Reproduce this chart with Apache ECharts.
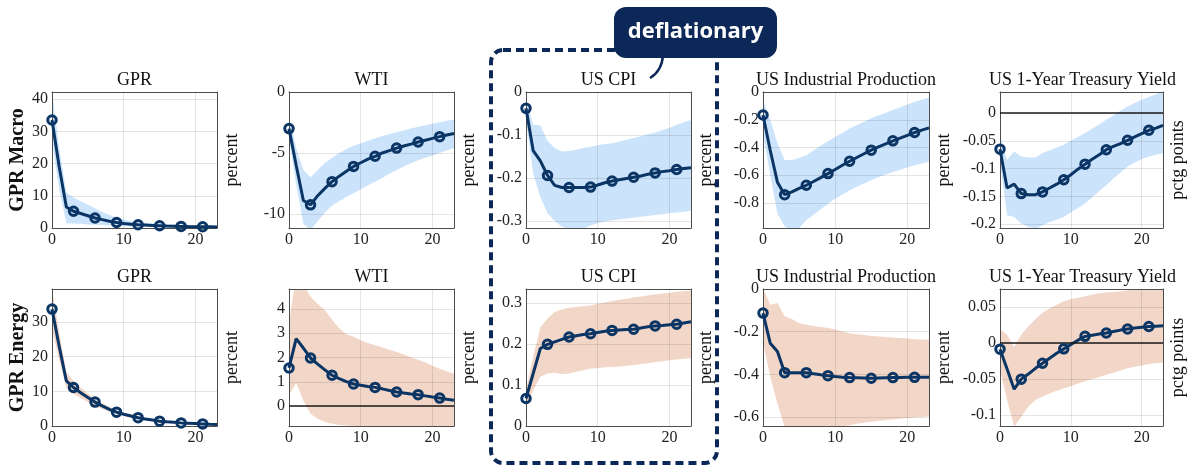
<!DOCTYPE html>
<html>
<head>
<meta charset="utf-8">
<script src="https://cdn.jsdelivr.net/npm/echarts@6/dist/echarts.min.js"></script>
<style>
  html, body { margin: 0; padding: 0; background: #ffffff; }
  #chart { width: 1188px; height: 466px; }
</style>
</head>
<body>
<div id="chart"></div>
<script>
// Impulse responses to a GPR shock (months after the shock), with confidence bands.
const horizon = [0, 1, 2, 3, 4, 5, 6, 7, 8, 9, 10, 11, 12, 13, 14, 15, 16, 17, 18, 19, 20, 21, 22, 23];
const markerSteps = [0, 3, 6, 9, 12, 15, 18, 21];
const xTicks = [0, 10, 20];

// ---- GPR Macro shock ----
const macroGprIrf = [33.5, 19.0, 6.5, 5.2, 4.5, 3.8, 3.1, 2.6, 2.1, 1.7, 1.4, 1.2, 1.0, 0.9, 0.8, 0.7, 0.6, 0.55, 0.5, 0.45, 0.42, 0.4, 0.35, 0.3];
const macroGprHi  = [42.5, 25, 11, 9.5, 8.3, 7.2, 6.1, 5.0, 4.0, 3.2, 2.6, 2.1, 1.8, 1.6, 1.4, 1.3, 1.2, 1.1, 1.0, 0.95, 0.9, 0.85, 0.8, 0.8];
const macroGprLo  = [27, 12, 1.5, 1.4, 1.3, 1.1, 1.0, 0.9, 0.8, 0.7, 0.55, 0.45, 0.35, 0.3, 0.25, 0.2, 0.15, 0.12, 0.1, 0.08, 0.05, 0.05, 0.03, 0.02];

const macroWtiIrf = [-3.0, -6.0, -8.9, -9.25, -8.5, -7.9, -7.35, -6.9, -6.5, -6.1, -5.8, -5.5, -5.27, -5.0, -4.8, -4.6, -4.43, -4.27, -4.1, -3.95, -3.8, -3.66, -3.52, -3.4];
const macroWtiHi  = [-1.9, -4.6, -6.4, -7.0, -6.4, -5.8, -5.4, -5.0, -4.7, -4.4, -4.2, -4.0, -3.8, -3.6, -3.45, -3.3, -3.15, -3.0, -2.85, -2.72, -2.6, -2.47, -2.35, -2.25];
const macroWtiLo  = [-3.8, -7.6, -10.8, -11.3, -10.6, -9.9, -9.3, -8.95, -8.6, -8.3, -8.0, -7.65, -7.35, -7.05, -6.7, -6.4, -6.1, -5.85, -5.6, -5.4, -5.2, -5.0, -4.8, -4.6];

const macroCpiIrf = [-0.038, -0.136, -0.16, -0.194, -0.217, -0.222, -0.222, -0.222, -0.222, -0.221, -0.216, -0.211, -0.207, -0.204, -0.201, -0.198, -0.195, -0.191, -0.188, -0.185, -0.183, -0.180, -0.178, -0.176];
const macroCpiHi  = [-0.015, -0.076, -0.077, -0.113, -0.13, -0.138, -0.137, -0.134, -0.13, -0.127, -0.124, -0.121, -0.119, -0.115, -0.111, -0.107, -0.103, -0.098, -0.094, -0.089, -0.083, -0.076, -0.07, -0.065];
const macroCpiLo  = [-0.065, -0.19, -0.244, -0.282, -0.30, -0.313, -0.318, -0.32, -0.318, -0.31, -0.305, -0.301, -0.298, -0.296, -0.294, -0.292, -0.29, -0.288, -0.286, -0.284, -0.282, -0.28, -0.278, -0.276];

const macroIpIrf = [-0.166, -0.42, -0.65, -0.74, -0.72, -0.695, -0.672, -0.645, -0.617, -0.588, -0.558, -0.528, -0.499, -0.472, -0.445, -0.419, -0.396, -0.374, -0.352, -0.332, -0.312, -0.292, -0.275, -0.258];
const macroIpHi  = [-0.06, -0.2, -0.37, -0.49, -0.49, -0.475, -0.455, -0.42, -0.387, -0.354, -0.324, -0.293, -0.263, -0.238, -0.214, -0.19, -0.17, -0.15, -0.13, -0.11, -0.09, -0.07, -0.055, -0.04];
const macroIpLo  = [-0.3, -0.6, -0.877, -0.97, -1.0, -0.98, -0.925, -0.885, -0.845, -0.805, -0.77, -0.738, -0.708, -0.683, -0.659, -0.636, -0.615, -0.595, -0.576, -0.56, -0.544, -0.528, -0.515, -0.503];

const macroTyIrf = [-0.065, -0.135, -0.128, -0.145, -0.147, -0.147, -0.142, -0.135, -0.128, -0.120, -0.111, -0.101, -0.092, -0.083, -0.075, -0.066, -0.060, -0.055, -0.049, -0.043, -0.037, -0.031, -0.027, -0.022];
const macroTyHi  = [-0.04, -0.084, -0.069, -0.078, -0.08, -0.08, -0.072, -0.067, -0.062, -0.057, -0.050, -0.043, -0.036, -0.028, -0.020, -0.012, -0.004, 0.004, 0.012, 0.018, 0.024, 0.029, 0.034, 0.038];
const macroTyLo  = [-0.09, -0.184, -0.187, -0.199, -0.205, -0.208, -0.202, -0.196, -0.192, -0.187, -0.179, -0.171, -0.163, -0.152, -0.141, -0.13, -0.118, -0.107, -0.096, -0.089, -0.083, -0.078, -0.075, -0.072];

// ---- GPR Energy shock ----
const energyGprIrf = [33.7, 23, 13, 11.1, 9.6, 8.2, 6.9, 5.8, 4.8, 4.0, 3.4, 2.9, 2.4, 2.0, 1.7, 1.4, 1.2, 1.05, 0.9, 0.8, 0.7, 0.6, 0.5, 0.45];
const energyGprHi  = [39.5, 27, 15.5, 13, 11, 9.4, 7.9, 6.6, 5.5, 4.6, 3.9, 3.3, 2.8, 2.4, 2.0, 1.7, 1.5, 1.3, 1.1, 1.0, 0.9, 0.8, 0.7, 0.6];
const energyGprLo  = [28, 19, 11, 9.3, 8.1, 6.9, 5.8, 4.9, 4.1, 3.4, 2.9, 2.4, 2.0, 1.7, 1.4, 1.1, 0.95, 0.8, 0.7, 0.6, 0.5, 0.4, 0.35, 0.3];

const energyWtiIrf = [1.57, 2.78, 2.39, 1.98, 1.73, 1.49, 1.27, 1.13, 1.01, 0.91, 0.86, 0.81, 0.77, 0.71, 0.64, 0.58, 0.54, 0.50, 0.47, 0.42, 0.37, 0.33, 0.28, 0.24];
const energyWtiHi  = [3.4, 5.4, 5.0, 4.5, 4.2, 3.95, 3.55, 3.2, 2.96, 2.85, 2.71, 2.6, 2.5, 2.41, 2.32, 2.23, 2.12, 2.01, 1.91, 1.79, 1.66, 1.54, 1.43, 1.33];
const energyWtiLo  = [0.45, 0.95, 0.23, -0.32, -0.52, -0.66, -0.73, -0.78, -0.8, -0.83, -0.86, -0.88, -0.9, -0.92, -0.93, -0.94, -0.95, -0.96, -0.97, -0.98, -0.98, -0.99, -0.99, -1.0];

const energyCpiIrf = [0.067, 0.128, 0.189, 0.199, 0.205, 0.211, 0.217, 0.220, 0.223, 0.225, 0.228, 0.231, 0.233, 0.234, 0.235, 0.236, 0.239, 0.242, 0.244, 0.245, 0.247, 0.248, 0.251, 0.254];
const energyCpiHi  = [0.087, 0.168, 0.241, 0.262, 0.278, 0.284, 0.288, 0.29, 0.292, 0.294, 0.298, 0.301, 0.305, 0.308, 0.31, 0.313, 0.316, 0.318, 0.321, 0.323, 0.325, 0.327, 0.329, 0.33];
const energyCpiLo  = [0.046, 0.087, 0.12, 0.128, 0.13, 0.126, 0.128, 0.132, 0.136, 0.14, 0.141, 0.143, 0.144, 0.145, 0.147, 0.148, 0.151, 0.153, 0.156, 0.158, 0.16, 0.162, 0.164, 0.165];

const energyIpIrf = [-0.113, -0.254, -0.293, -0.392, -0.392, -0.392, -0.392, -0.397, -0.402, -0.406, -0.41, -0.413, -0.415, -0.416, -0.417, -0.418, -0.417, -0.416, -0.415, -0.415, -0.414, -0.414, -0.414, -0.414];
const energyIpHi  = [0.005, -0.074, -0.066, -0.128, -0.141, -0.16, -0.168, -0.173, -0.178, -0.183, -0.19, -0.199, -0.207, -0.212, -0.216, -0.22, -0.223, -0.225, -0.227, -0.23, -0.232, -0.235, -0.237, -0.238];
const energyIpLo  = [-0.25, -0.41, -0.536, -0.646, -0.68, -0.68, -0.68, -0.68, -0.67, -0.66, -0.65, -0.644, -0.638, -0.632, -0.627, -0.622, -0.618, -0.614, -0.611, -0.608, -0.605, -0.602, -0.6, -0.598];

const energyTyIrf = [-0.0084, -0.036, -0.064, -0.050, -0.043, -0.035, -0.028, -0.021, -0.014, -0.008, -0.002, 0.004, 0.0093, 0.011, 0.0125, 0.014, 0.016, 0.018, 0.0195, 0.021, 0.022, 0.023, 0.0235, 0.024];
const energyTyHi  = [0.0195, 0.0116, -0.0056, 0.0116, 0.023, 0.033, 0.042, 0.048, 0.053, 0.058, 0.061, 0.063, 0.065, 0.067, 0.069, 0.07, 0.071, 0.072, 0.073, 0.074, 0.074, 0.0745, 0.075, 0.076];
const energyTyLo  = [-0.037, -0.079, -0.116, -0.102, -0.088, -0.079, -0.074, -0.070, -0.066, -0.063, -0.06, -0.056, -0.053, -0.05, -0.047, -0.044, -0.041, -0.038, -0.035, -0.033, -0.031, -0.029, -0.028, -0.027];

// Titles, units and y-axis ticks / limits
const variableTitles = ['GPR', 'WTI', 'US CPI', 'US Industrial Production', 'US 1-Year Treasury Yield'];
const unitLabels = ['percent', 'percent', 'percent', 'percent', 'pctg points'];
const rowLabels = ['GPR Macro', 'GPR Energy'];
const macroYTicks = [[0, 10, 20, 30, 40], [-10, -5, 0], [-0.3, -0.2, -0.1, 0], [-0.8, -0.6, -0.4, -0.2, 0], [-0.2, -0.15, -0.1, -0.05, 0]];
const macroYLimits = [[0, 42.2], [-11.15, 0], [-0.316, 0], [-0.98, 0], [-0.207, 0.038]];
const energyYTicks = [[0, 10, 20, 30], [0, 1, 2, 3, 4], [0, 0.1, 0.2, 0.3], [-0.6, -0.4, -0.2, 0], [-0.1, -0.05, 0, 0.05]];
const energyYLimits = [[0, 39.5], [-0.82, 4.82], [0, 0.334], [-0.642, 0], [-0.115, 0.075]];

const macroSets = [
  [macroGprIrf, macroGprLo, macroGprHi], [macroWtiIrf, macroWtiLo, macroWtiHi],
  [macroCpiIrf, macroCpiLo, macroCpiHi], [macroIpIrf, macroIpLo, macroIpHi],
  [macroTyIrf, macroTyLo, macroTyHi]
];
const energySets = [
  [energyGprIrf, energyGprLo, energyGprHi], [energyWtiIrf, energyWtiLo, energyWtiHi],
  [energyCpiIrf, energyCpiLo, energyCpiHi], [energyIpIrf, energyIpLo, energyIpHi],
  [energyTyIrf, energyTyLo, energyTyHi]
];

// ---- styling / layout ----
const SERIF = "'Liberation Serif', 'DejaVu Serif', serif";
const LINE_COLOR = '#0b3565';
const NAVY = '#0c2858';
const BAND_COLORS = ['#cce4fb', '#f2d6c7'];
const BOX_COLOR = '#4d4d4d';
const GRID_COLOR = 'rgba(0,0,0,0.10)';
const TEXT_COLOR = '#222222';

const colLeft = [52, 289, 526, 763, 1000];
const colWidth = [165, 165, 165, 166, 165];
const rowTop = [92, 289];
const rowHeight = [136, 137];

const grids = [], xAxes = [], yAxes = [], series = [], graphics = [];

function bandRenderer(lo, hi, color) {
  return function (params, api) {
    if (params.dataIndex !== 0) return null;
    const pts = [];
    for (let k = 0; k < horizon.length; k++) pts.push(api.coord([horizon[k], hi[k]]));
    for (let k = horizon.length - 1; k >= 0; k--) pts.push(api.coord([horizon[k], lo[k]]));
    const cs = params.coordSys;
    return {
      type: 'polygon',
      shape: { points: pts },
      style: { fill: color },
      clipPath: { type: 'rect', shape: { x: cs.x, y: cs.y, width: cs.width, height: cs.height } }
    };
  };
}

[macroSets, energySets].forEach(function (sets, r) {
  const ticksRow = r === 0 ? macroYTicks : energyYTicks;
  const limitsRow = r === 0 ? macroYLimits : energyYLimits;
  sets.forEach(function (set, c) {
    const i = grids.length;
    const irf = set[0], lo = set[1], hi = set[2];
    const yMin = limitsRow[c][0], yMax = limitsRow[c][1];

    grids.push({ left: colLeft[c], top: rowTop[r], width: colWidth[c], height: rowHeight[r], show: false });

    graphics.push({
      type: 'text', x: colLeft[c] + colWidth[c] / 2, y: rowTop[r] - 12,
      style: { text: variableTitles[c], x: 0, y: 0, align: 'center', verticalAlign: 'middle',
               font: 'normal 18px ' + SERIF, fill: '#111111' },
      z: 10
    });

    // bottom and top x axes (the top one closes the box)
    xAxes.push({
      gridIndex: i, type: 'value', min: 0, max: 23, position: 'bottom', z: 3,
      axisLine: { show: true, onZero: false, lineStyle: { color: BOX_COLOR, width: 1 } },
      axisTick: { show: false, customValues: xTicks },
      axisLabel: { customValues: xTicks, margin: 4, fontFamily: SERIF, fontSize: 16, color: TEXT_COLOR },
      splitLine: { show: true, lineStyle: { color: GRID_COLOR, width: 1 } }
    });
    xAxes.push({
      gridIndex: i, type: 'value', min: 0, max: 23, position: 'top', z: 3,
      axisLine: { show: true, onZero: false, lineStyle: { color: BOX_COLOR, width: 1 } },
      axisTick: { show: false }, axisLabel: { show: false }, splitLine: { show: false }
    });

    // left y axis with ticks; right y axis carries the unit
    yAxes.push({
      gridIndex: i, type: 'value', min: yMin, max: yMax, position: 'left', z: 3,
      name: c === 0 ? rowLabels[r] : '',
      nameLocation: 'middle', nameRotate: 90, nameGap: 23,
      nameTextStyle: { fontFamily: SERIF, fontSize: 20, fontWeight: 'bold', color: '#111111' },
      axisLine: { show: true, onZero: false, lineStyle: { color: BOX_COLOR, width: 1 } },
      axisTick: { show: false, customValues: ticksRow[c] },
      axisLabel: { customValues: ticksRow[c], margin: 4, fontFamily: SERIF, fontSize: 16, color: TEXT_COLOR },
      splitLine: { show: true, lineStyle: { color: GRID_COLOR, width: 1 } }
    });
    yAxes.push({
      gridIndex: i, type: 'value', min: yMin, max: yMax, position: 'right', z: 3,
      name: unitLabels[c], nameLocation: 'middle', nameRotate: 90, nameGap: 6,
      nameTextStyle: { fontFamily: SERIF, fontSize: 18, color: '#111111' },
      axisLine: { show: true, onZero: false, lineStyle: { color: BOX_COLOR, width: 1 } },
      axisTick: { show: false }, axisLabel: { show: false }, splitLine: { show: false }
    });

    const band = {
      type: 'custom', xAxisIndex: 2 * i, yAxisIndex: 2 * i, z: 2, silent: true,
      renderItem: bandRenderer(lo, hi, BAND_COLORS[r]),
      data: horizon.map(function (h, k) { return [h, lo[k], hi[k]]; }),
      encode: { x: 0, y: [1, 2] }
    };
    if (yMin < 0 && yMax > 0) {
      band.markLine = {
        silent: true, symbol: 'none', label: { show: false },
        lineStyle: { color: '#1a1a1a', width: 1.6, type: 'solid' },
        data: [{ yAxis: 0 }]
      };
    }
    series.push(band);

    series.push({
      type: 'line', xAxisIndex: 2 * i, yAxisIndex: 2 * i, z: 4, silent: true,
      data: horizon.map(function (h, k) { return [h, irf[k]]; }),
      symbol: 'none', clip: true,
      lineStyle: { color: LINE_COLOR, width: 3 }
    });
    series.push({
      type: 'scatter', xAxisIndex: 2 * i, yAxisIndex: 2 * i, z: 5, silent: true,
      data: markerSteps.map(function (s) { return [s, irf[horizon.indexOf(s)]]; }),
      symbol: 'circle', symbolSize: 8.5,
      itemStyle: { color: 'rgba(255,255,255,0)', borderColor: LINE_COLOR, borderWidth: 3, opacity: 1 }
    });
  });
});

// Highlight frame around the CPI column and its callout
graphics.push({
  type: 'rect', z: 20,
  shape: { x: 491, y: 50, width: 226, height: 413, r: 12 },
  style: { fill: null, stroke: NAVY, lineWidth: 4, lineDash: [8, 5] }
});
graphics.push({
  type: 'bezierCurve', z: 21,
  shape: { x1: 663, y1: 55, x2: 650, y2: 78, cpx1: 662, cpy1: 71 },
  style: { fill: null, stroke: NAVY, lineWidth: 2.5 }
});
graphics.push({
  type: 'rect', z: 22,
  shape: { x: 614, y: 7, width: 163, height: 51, r: 12 },
  style: { fill: NAVY }
});
graphics.push({
  type: 'text', z: 23, x: 695.5, y: 32,
  style: { text: 'deflationary', x: 0, y: 0, align: 'center', verticalAlign: 'middle',
           font: "bold 22px 'Open Sans', 'Noto Sans', sans-serif", fill: '#ffffff' }
});

const chart = echarts.init(document.getElementById('chart'), null, { renderer: 'canvas' });
chart.setOption({
  animation: false,
  backgroundColor: '#ffffff',
  grid: grids,
  xAxis: xAxes,
  yAxis: yAxes,
  series: series,
  graphic: { elements: graphics }
});
</script>
</body>
</html>
